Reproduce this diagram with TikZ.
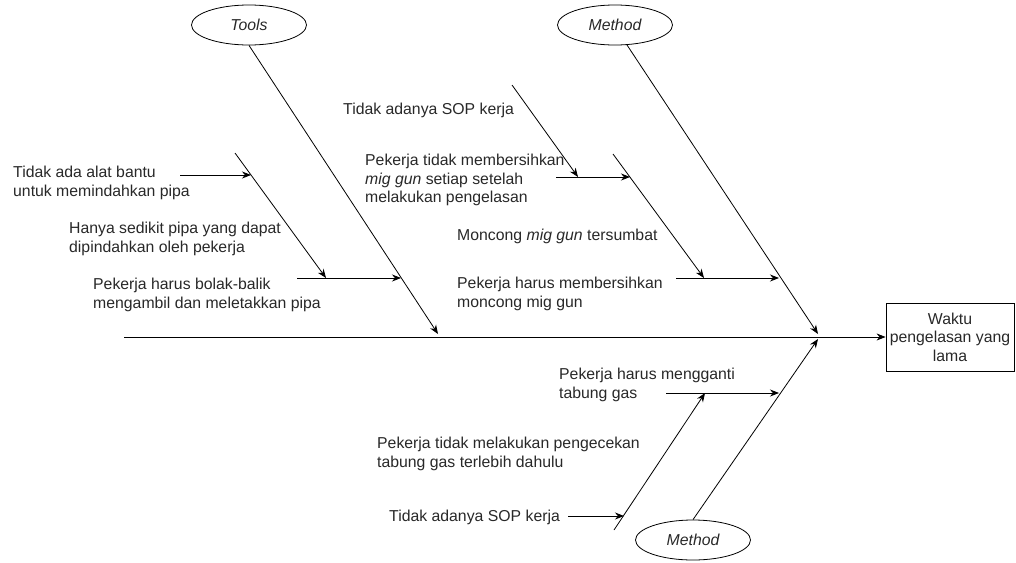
\documentclass[tikz,border=0pt]{standalone}
\usepackage{fontspec}
\setmainfont{Liberation Sans}
\usetikzlibrary{shapes.geometric,arrows.meta}
\definecolor{txt}{RGB}{40,40,40}
\begin{document}
\begin{tikzpicture}[x=1pt,y=-1pt,
  lbl/.style={anchor=north west,inner sep=0pt,align=left,text=txt,font=\fontsize{15.8}{18.5}\selectfont},
  cat/.style={ellipse,draw,line width=0.8pt,minimum width=115pt,minimum height=40pt,inner sep=0pt,text=txt,font=\fontsize{15.8}{18.5}\selectfont\itshape},
  effbox/.style={draw,line width=0.8pt,minimum width=128pt,minimum height=68pt,inner sep=0pt,align=center,text=txt,font=\fontsize{15.8}{18.5}\selectfont},
  bone/.style={line width=0.8pt},
  arr/.style={bone,-{Stealth[length=9pt,width=7pt]}}]
\useasboundingbox (0,0) rectangle (1016,562);

% category ellipses and effect box
\node[cat] (tools) at (249,25) {Tools};
\node[cat] (mtop) at (615,25) {Method};
\node[cat] (mbot) at (693,540) {Method};
\node[effbox] (eff) at (950,337) {Waktu\\pengelasan yang\\lama};

% coordinates
\coordinate (s0) at (124,337);
\coordinate (tt) at (438,334);
\coordinate (h1) at (818,334);
\coordinate (h2) at (818,339);
\coordinate (mtopfoot) at (627,45);

\coordinate (t1a) at (235,153);
\coordinate (t1b) at (326,278);
\coordinate (t1h0) at (297,278);
\coordinate (t1h1) at (401,278);
\coordinate (a1s) at (180,175);
\coordinate (a1e) at (251,175);

\coordinate (m1a) at (512,85);
\coordinate (m1b) at (578,177);
\coordinate (m1h0) at (556,177);
\coordinate (m1h1) at (630,177);
\coordinate (m2a) at (613,154);
\coordinate (m2b) at (704,278);
\coordinate (m2h0) at (676,278);
\coordinate (m2h1) at (779,278);

\coordinate (b1a) at (614,530);
\coordinate (b1b) at (705,393);
\coordinate (b1h0) at (666,393);
\coordinate (b1h1) at (779,393);
\coordinate (b2s) at (568,516);
\coordinate (b2e) at (624,516);

% spine and main bones
\draw[arr] (s0) -- (eff.west);
\draw[arr] (tools.south) -- (tt);
\draw[arr] (mtopfoot) -- (h1);
\draw[arr] (mbot.north) -- (h2);

% tools sub-bones
\draw[arr] (t1a) -- (t1b);
\draw[arr] (t1h0) -- (t1h1);
\draw[arr] (a1s) -- (a1e);

% method (top) sub-bones
\draw[arr] (m1a) -- (m1b);
\draw[arr] (m1h0) -- (m1h1);
\draw[arr] (m2a) -- (m2b);
\draw[arr] (m2h0) -- (m2h1);

% method (bottom) sub-bones
\draw[arr] (b1a) -- (b1b);
\draw[arr] (b1h0) -- (b1h1);
\draw[arr] (b2s) -- (b2e);

% labels
\node[lbl] (l1) at (13,166) {Tidak ada alat bantu\\untuk memindahkan pipa};
\node[lbl] (l2) at (69,222) {Hanya sedikit pipa yang dapat\\dipindahkan oleh pekerja};
\node[lbl] (l3) at (93,278) {Pekerja harus bolak-balik\\mengambil dan meletakkan pipa};

\node[lbl] (l4) at (343,103) {Tidak adanya SOP kerja};
\node[lbl] (l5) at (365,154) {Pekerja tidak membersihkan\\\textit{mig gun} setiap setelah\\melakukan pengelasan};
\node[lbl] (l6) at (457,229) {Moncong \textit{mig gun} tersumbat};
\node[lbl] (l7) at (457,277) {Pekerja harus membersihkan\\moncong mig gun};

\node[lbl] (l8) at (559,368) {Pekerja harus mengganti\\tabung gas};
\node[lbl] (l9) at (377,437) {Pekerja tidak melakukan pengecekan\\tabung gas terlebih dahulu};
\node[lbl] (l10) at (389,510) {Tidak adanya SOP kerja};
\end{tikzpicture}
\end{document}
